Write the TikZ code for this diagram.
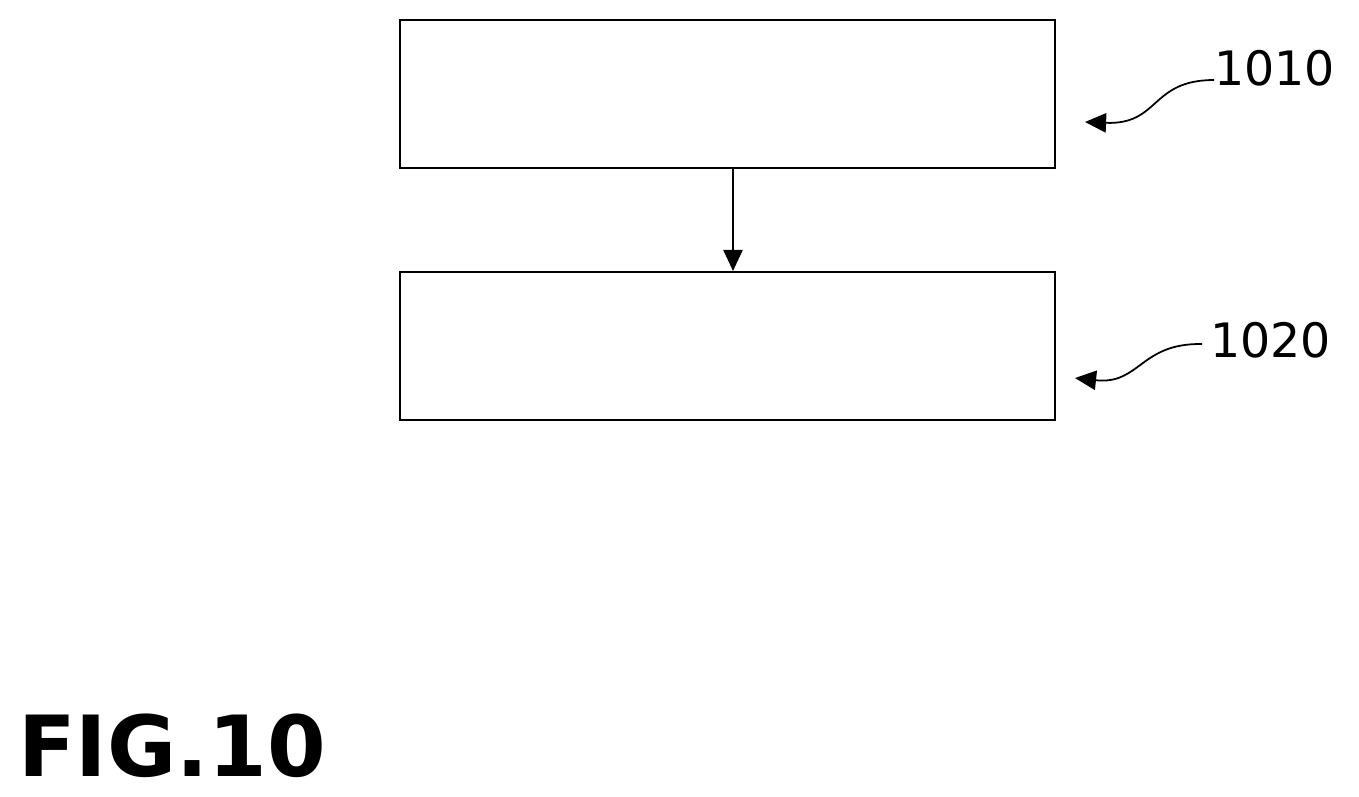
\documentclass[tikz,border=0pt]{standalone}
\usepackage{fontspec}
\setmainfont{DejaVu Sans}
\usetikzlibrary{arrows.meta}
\begin{document}
\begin{tikzpicture}[x=0.02cm,y=-0.02cm,
  box/.style={draw,line width=1.2pt,minimum width=655*0.02cm,minimum height=148*0.02cm,inner sep=0},
  lbl/.style={font=\fontsize{27}{30}\selectfont,inner sep=0},
  lead/.style={line width=1pt,-{Triangle[length=12pt,width=11pt]}}]
\useasboundingbox (0,0) rectangle (1359,796);
\node[box] (b1) at (727.5,94) {};
\node[box] (b2) at (727.5,346) {};
\draw[line width=1pt,-{Triangle[length=12pt,width=11pt]}] (b1.south -| 733,0) -- (b2.north -| 733,0);
\node[lbl,anchor=west] (l1) at (1214,68) {1010};
\node[lbl,anchor=west] (l2) at (1210,340) {1020};
\coordinate (t1) at (1085,122);
\coordinate (t2) at (1075,378);
\draw[lead] (l1.west) ++(0,12) .. controls (1150,80) and (1160,125) .. (t1);
\draw[lead] (l2.west) ++(-8,4) .. controls (1140,343) and (1140,385) .. (t2);
\node[font=\fontsize{48}{52}\selectfont\bfseries,anchor=south west,inner sep=0] (fig) at (18,778) {FIG.10};
\end{tikzpicture}
\end{document}
